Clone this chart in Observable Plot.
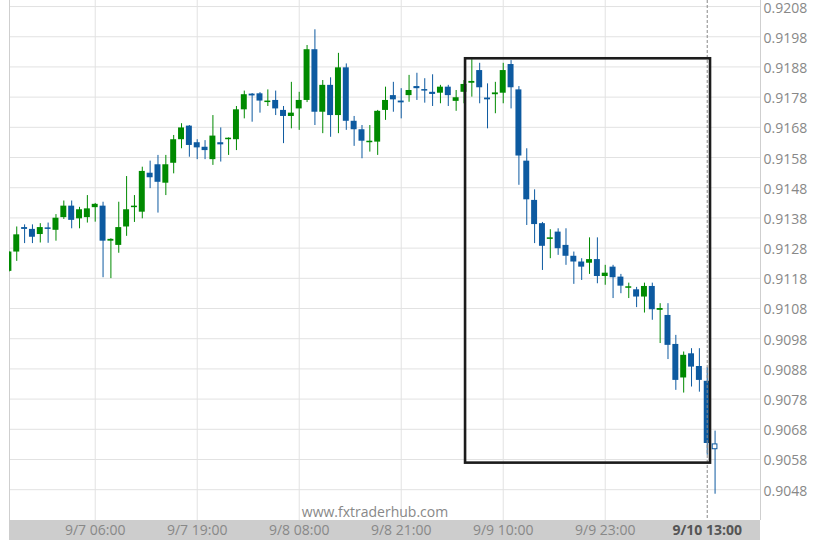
<!DOCTYPE html>
<html><head><meta charset="utf-8">
<script src="https://cdn.jsdelivr.net/npm/d3@7"></script>
<script src="https://cdn.jsdelivr.net/npm/@observablehq/plot@0.6"></script>
<style>
html,body{margin:0;padding:0;background:#fff;}
#chart svg{display:block;}
</style></head><body><div id="chart"></div>
<script>
const openP = [0.91203,0.91267,0.91348,0.91342,0.91325,0.91347,0.91339,0.91381,0.91419,0.91377,
0.91381,0.91414,0.91419,0.91303,0.91289,0.91350,0.91414,0.91399,0.91528,0.91556,
0.91495,0.91561,0.91639,0.91684,0.91629,0.91614,0.91573,0.91629,0.91639,0.91639,
0.91738,0.91790,0.91791,0.91762,0.91769,0.91736,0.91716,0.91741,0.91769,0.91937,
0.91730,0.91819,0.91719,0.91877,0.91700,0.91672,0.91629,0.91631,0.91736,0.91785,
0.91767,0.91785,0.91815,0.91805,0.91796,0.91793,0.91813,0.91766,0.91796,0.91826,
0.91868,0.91777,0.91788,0.91793,0.91888,0.91804,0.91568,0.91438,0.91361,0.91309,
0.91333,0.91289,0.91253,0.91234,0.91230,0.91242,0.91186,0.91217,0.91184,0.91147,
0.91142,0.91118,0.91153,0.91074,0.91057,0.90961,0.90850,0.90930,0.90888,0.90839,0.90630];
const closeP = [0.91267,0.91324,0.91342,0.91316,0.91348,0.91342,0.91379,0.91419,0.91372,0.91407,
0.91410,0.91425,0.91303,0.91309,0.91348,0.91407,0.91419,0.91534,0.91513,0.91498,
0.91556,0.91639,0.91678,0.91620,0.91612,0.91603,0.91651,0.91622,0.91644,0.91738,
0.91788,0.91784,0.91767,0.91767,0.91741,0.91716,0.91727,0.91769,0.91937,0.91730,
0.91819,0.91719,0.91877,0.91700,0.91672,0.91634,0.91634,0.91733,0.91769,0.91771,
0.91761,0.91802,0.91808,0.91800,0.91789,0.91813,0.91785,0.91778,0.91822,0.91832,
0.91811,0.91771,0.91794,0.91868,0.91811,0.91585,0.91440,0.91358,0.91286,0.91314,
0.91278,0.91253,0.91234,0.91217,0.91242,0.91186,0.91197,0.91182,0.91154,0.91152,
0.91118,0.91153,0.91076,0.91080,0.90958,0.90842,0.90925,0.90886,0.90842,0.90633,0.90614];
const highP = [0.91269,0.91350,0.91357,0.91357,0.91361,0.91363,0.91391,0.91436,0.91436,0.91415,
0.91454,0.91428,0.91432,0.91311,0.91432,0.91517,0.91454,0.91548,0.91568,0.91587,
0.91587,0.91653,0.91692,0.91686,0.91639,0.91636,0.91719,0.91678,0.91645,0.91749,
0.91800,0.91792,0.91795,0.91804,0.91800,0.91749,0.91829,0.91796,0.91951,0.92003,
0.91835,0.91844,0.91925,0.91890,0.91716,0.91686,0.91686,0.91736,0.91813,0.91829,
0.91808,0.91852,0.91859,0.91841,0.91854,0.91819,0.91819,0.91802,0.91835,0.91904,
0.91892,0.91824,0.91829,0.91892,0.91901,0.91815,0.91609,0.91473,0.91365,0.91341,
0.91344,0.91344,0.91267,0.91245,0.91314,0.91314,0.91223,0.91223,0.91193,0.91164,
0.91150,0.91164,0.91164,0.91096,0.91096,0.90991,0.90936,0.90947,0.90947,0.90884,0.90674];
const lowP = [0.91200,0.91236,0.91295,0.91295,0.91297,0.91296,0.91303,0.91375,0.91344,0.91344,
0.91363,0.91366,0.91182,0.91179,0.91263,0.91319,0.91365,0.91377,0.91477,0.91396,
0.91454,0.91526,0.91609,0.91581,0.91573,0.91573,0.91554,0.91565,0.91587,0.91603,
0.91708,0.91697,0.91727,0.91749,0.91719,0.91626,0.91675,0.91670,0.91762,0.91686,
0.91659,0.91647,0.91659,0.91670,0.91617,0.91576,0.91598,0.91587,0.91703,0.91730,
0.91708,0.91763,0.91769,0.91760,0.91749,0.91758,0.91749,0.91733,0.91758,0.91780,
0.91758,0.91675,0.91725,0.91758,0.91741,0.91488,0.91355,0.91295,0.91206,0.91245,
0.91256,0.91223,0.91160,0.91173,0.91193,0.91162,0.91157,0.91113,0.91129,0.91113,
0.91083,0.91065,0.91041,0.90964,0.90911,0.90809,0.90800,0.90820,0.90803,0.90594,0.90465];

const xTickIdx = [11, 24, 37, 50, 63, 76, 89];
const xTickLabels = ["9/7 06:00","9/7 19:00","9/8 08:00","9/8 21:00","9/9 10:00","9/9 23:00","9/10 13:00"];
const yTicks = [0.9048,0.9058,0.9068,0.9078,0.9088,0.9098,0.9108,0.9118,0.9128,0.9138,0.9148,0.9158,0.9168,0.9178,0.9188,0.9198,0.9208];
const xDomain = [0.076, 95.79];
const yDomain = [0.90378, 0.92100];
const currentIdx = [89];
const boxX = [58.2, 89.42];
const boxY = [0.90568, 0.91907];
const watermark = ["www.fxtraderhub.com"];

const GREEN = "#008a00", BLUE = "#0d5aa0";
const candles = openP.map((o, i) => ({i, o, c: closeP[i], h: highP[i], l: lowP[i]}));
const lastC = candles.slice(-1);
const body = candles.slice(0, -1);
const ups = body.filter(d => d.c >= d.o);
const downs = body.filter(d => d.c < d.o);
const half = 0.38;

const chart = Plot.plot({
  width: 822, height: 548,
  marginLeft: 9, marginRight: 62, marginTop: 0, marginBottom: 28,
  style: {fontFamily: "'Open Sans', sans-serif", fontSize: "14px", color: "#888", background: "#fff"},
  x: {type: "linear", domain: xDomain, ticks: xTickIdx, tickFormat: d => xTickLabels[xTickIdx.indexOf(d)], tickSize: 0, tickPadding: 5, label: null},
  y: {domain: yDomain, axis: "right", ticks: yTicks, tickFormat: d => d.toFixed(4), tickSize: 0, tickPadding: 3, label: null},
  marks: [
    Plot.ruleY(yTicks, {stroke: "#e2e2e2"}),
    Plot.ruleX(xTickIdx.slice(0, -1), {stroke: "#e2e2e2"}),
    Plot.ruleX(xDomain, {stroke: "#cfcfcf"}),
    Plot.text(watermark, {frameAnchor: "bottom", lineAnchor: "middle", dy: -8, dx: -10, fill: "#888", fontSize: 14}),
    Plot.ruleX(ups, {x: "i", y1: "l", y2: "h", stroke: GREEN, clip: true}),
    Plot.ruleX(downs, {x: "i", y1: "l", y2: "h", stroke: BLUE, clip: true}),
    Plot.ruleX(lastC, {x: "i", y1: "l", y2: "h", stroke: BLUE, clip: true}),
    Plot.rect(ups, {x1: d => d.i - half, x2: d => d.i + half, y1: "o", y2: "c", fill: GREEN, clip: true}),
    Plot.rect(downs, {x1: d => d.i - half, x2: d => d.i + half, y1: "o", y2: "c", fill: BLUE, clip: true}),
    Plot.ruleX(currentIdx, {stroke: "#888", strokeDasharray: "3,2"}),
    Plot.rect(lastC, {x1: d => d.i - 0.3, x2: d => d.i + 0.3, y1: "o", y2: "c", fill: "#fff", stroke: BLUE, strokeWidth: 1, clip: true}),
    Plot.rect([0], {x1: () => boxX[0], x2: () => boxX[1], y1: () => boxY[0], y2: () => boxY[1], fill: "none", stroke: "#1c1c1c", strokeWidth: 2.6})
  ]
});

// gray band behind the x-axis labels
const xr = chart.scale("x").range, yr = chart.scale("y").range;
const band = document.createElementNS("http://www.w3.org/2000/svg", "rect");
band.setAttribute("x", Math.min(...xr));
band.setAttribute("y", Math.max(...yr));
band.setAttribute("width", Math.abs(xr[1] - xr[0]));
band.setAttribute("height", 20);
band.setAttribute("fill", "#cdcdcd");
const firstG = chart.querySelector("g");
chart.insertBefore(band, firstG);
const yLabels = new Set(yTicks.map(d => d.toFixed(4)));
d3.select(chart).selectAll("text").each(function() {
  const t = this.textContent;
  if (t === xTickLabels[xTickLabels.length - 1]) {
    d3.select(this).attr("font-weight", "bold").attr("fill", "#555");
  } else if (yLabels.has(t)) {
    const prev = this.getAttribute("dy");
    d3.select(this).attr("dy", prev ? `calc(${prev} + 1.5px)` : "1.5");
  }
});
document.getElementById("chart").appendChild(chart);
</script></body></html>
